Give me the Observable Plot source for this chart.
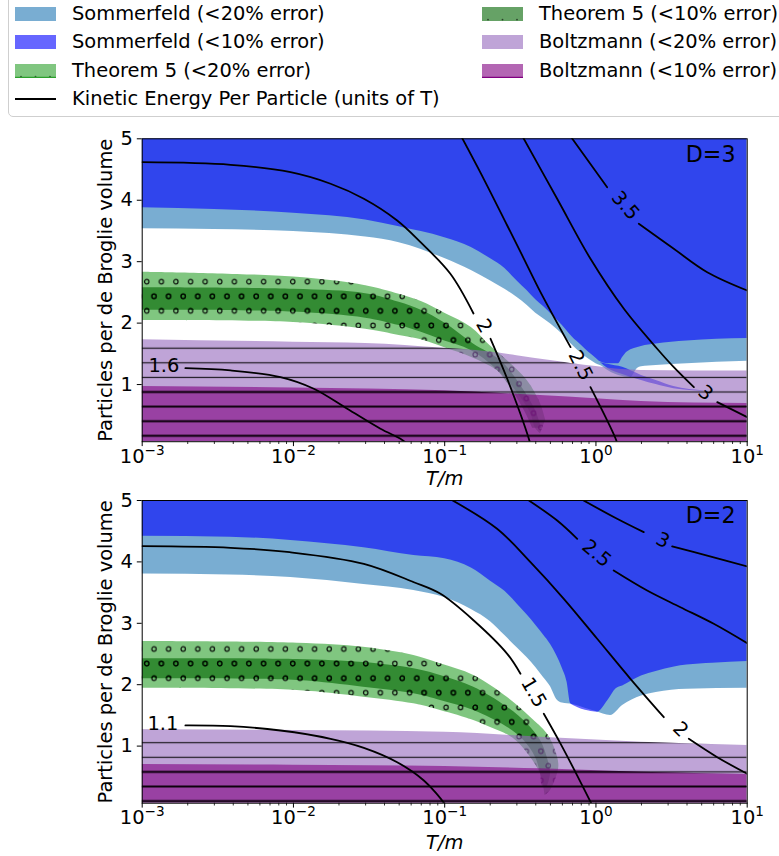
<!DOCTYPE html>
<html>
<head>
<meta charset="utf-8">
<script src="https://cdn.jsdelivr.net/npm/d3@7"></script>
<script src="https://cdn.jsdelivr.net/npm/@observablehq/plot@0.6"></script>
<style>
html,body{margin:0;padding:0;background:#fff;}
#root{position:relative;width:779px;height:856px;overflow:hidden;font-family:"DejaVu Sans",sans-serif;color:#000;}
#legendBox{position:absolute;left:8px;top:-10px;width:820px;height:127px;border:1.3px solid #cfcfcf;border-radius:5px;background:#fff;box-sizing:border-box;}
.lg{position:absolute;height:28px;display:flex;align-items:center;font-size:19.44px;white-space:nowrap;line-height:1;}
.lg svg{flex:none;margin-right:16px;}
.panel{position:absolute;left:0;}
</style>
</head>
<body>
<div id="root">
  <div id="legendBox"></div>
  <div id="p1" class="panel" style="top:118px"></div>
  <div id="p2" class="panel" style="top:480px"></div>
</div>
<script>
// ---------------- data (x = T/m, y = particles per de Broglie volume) ----------------
const X_TICKS = [0.001, 0.01, 0.1, 1, 10];
const X_TICK_EXP = ["\u22123", "\u22122", "\u22121", "0", "1"];
const Y_TICKS = [1, 2, 3, 4, 5];
const X_DOMAIN = [0.001, 10];
const Y_DOMAIN = [0.07, 5];
const X_LABEL = "T/m";
const Y_LABEL = "Particles per de Broglie volume";
const LEGEND_LABELS = ["Sommerfeld (<20% error)", "Sommerfeld (<10% error)", "Theorem 5 (<20% error)",
  "Kinetic Energy Per Particle (units of T)", "Theorem 5 (<10% error)", "Boltzmann (<20% error)", "Boltzmann (<10% error)"];

// ----- D=3 panel -----
const d3Sommer20Lower = [[0.001,3.535],[0.003,3.524],[0.01,3.49],[0.03,3.40],[0.05,3.31],[0.07,3.20],[0.1,3.05],[0.15,2.857],[0.2,2.69],[0.25,2.55],[0.3,2.42],[0.35,2.29],[0.4,2.16],[0.45,2.07],[0.5,1.99],[0.6,1.82],[0.7,1.64],[0.8,1.51],[0.9,1.41],[1,1.34],[1.07,1.31],[1.2,1.23],[1.33,1.17],[1.5,1.13],[1.69,1.11],[1.88,1.26],[2,1.29],[2.5,1.31],[4,1.34],[10,1.38]];
const d3Sommer10Lower = [[0.001,3.877],[0.003,3.85],[0.01,3.79],[0.03,3.68],[0.05,3.57],[0.07,3.49],[0.1,3.39],[0.15,3.23],[0.2,3.05],[0.25,2.89],[0.3,2.69],[0.35,2.53],[0.4,2.38],[0.45,2.27],[0.5,2.16],[0.6,1.96],[0.7,1.77],[0.8,1.64],[0.9,1.52],[1,1.43],[1.07,1.37],[1.2,1.34],[1.41,1.34],[1.5,1.44],[1.61,1.53],[2,1.62],[2.5,1.66],[4,1.71],[10,1.75]];
const d3Sommer10Sliver = [[1.07,1.36,1.36],[1.2,1.26,1.33],[1.5,1.165,1.28],[2,1.067,1.148],[2.5,1.0,1.067],[3.27,0.932,0.97],[5.3,0.89,0.896]];
const d3Thm20Lower = [[0.001,2.043],[0.01,2.01],[0.03,1.90],[0.05,1.80],[0.07,1.73],[0.1,1.60],[0.155,1.43],[0.234,1.19],[0.301,0.87],[0.369,0.54],[0.398,0.29],[0.43,0.20]];
const d3Thm20Upper = [[0.001,2.83],[0.01,2.75],[0.03,2.61],[0.05,2.47],[0.07,2.35],[0.1,2.16],[0.15,1.93],[0.2,1.63],[0.259,1.39],[0.351,1.067],[0.43,0.69],[0.465,0.42]];
const d3Thm10Lower = [[0.001,2.21],[0.01,2.18],[0.03,2.08],[0.05,1.96],[0.07,1.85],[0.1,1.71],[0.148,1.56],[0.217,1.26],[0.281,0.90],[0.342,0.54],[0.381,0.29]];
const d3Thm10Upper = [[0.001,2.575],[0.01,2.55],[0.03,2.48],[0.05,2.34],[0.07,2.21],[0.1,2.0],[0.155,1.66],[0.234,1.39],[0.317,0.99],[0.398,0.58],[0.437,0.29]];
const d3Boltz20Upper = [[0.001,1.73],[0.01,1.69],[0.03,1.67],[0.1,1.59],[0.2,1.53],[0.3,1.47],[0.5,1.39],[0.7,1.34],[1,1.295],[1.5,1.245],[2,1.23],[10,1.22]];
const d3Boltz10Upper = [[0.001,0.97],[0.01,0.945],[0.1,0.90],[0.43,0.82],[1,0.77],[2,0.725],[10,0.69]];
// kinetic energy contours: [T/m, value, segment]
const d3Level16 = [[0.00193,1.267,0],[0.00384,1.230,0],[0.0082,1.121,0],[0.01363,0.932,0],[0.02267,0.606,0],[0.0376,0.281,0],[0.051,0.118,0],[0.0551,0.058,0]];
const d3Level2 = [[0.001,4.619,0],[0.00384,4.577,0],[0.00956,4.456,0],[0.0176,4.268,0],[0.0292,4.024,0],[0.0485,3.670,0],[0.0692,3.317,0],[0.109,2.803,0],[0.155,2.157,0],[0.201,1.745,1],[0.259,1.094,1],[0.36,0.118,1],[0.38,-0.1,1]];
const d3Level25 = [[0.128,5.05,0],[0.181,4.349,0],[0.259,3.589,0],[0.334,3.047,0],[0.43,2.504,0],[0.679,1.609,0],[0.92,0.958,1],[1.35,0.118,1],[1.42,-0.05,1]];
const d3Level3 = [[0.325,5.05,0],[0.554,4.024,0],[0.92,3.047,0],[1.53,2.233,0],[2.54,1.583,0],[3.27,1.283,0],[4.44,0.958,0],[6.34,0.714,1],[10,0.47,1]];
const d3Level35 = [[0.675,5.05,0],[1.186,4.212,0],[1.92,3.617,1],[3.27,3.21,1],[5.44,2.829,1],[10,2.531,1]];
const d3Labels = [[0.00139,1.31,"1.6"],[0.182,1.954,"2"],[0.79,1.31,"2.5"],[5.3,0.863,"3"],[1.567,3.915,"3.5"]];
const d3LabelAngles = [0, 60, 63, 40, 49];

// ----- D=2 panel -----
const d2Sommer20Lower = [[0.001,3.803],[0.0038,3.787],[0.0096,3.746],[0.0292,3.632],[0.0625,3.534],[0.1,3.42],[0.15,3.225],[0.2,3.03],[0.25,2.80],[0.3,2.606],[0.35,2.443],[0.4,2.28],[0.45,2.117],[0.5,1.97],[0.55,1.76],[0.6,1.70],[0.7,1.678],[0.9,1.596],[1,1.564],[1.25,1.498],[1.5,1.661],[2,1.815],[2.5,1.873],[4,1.927],[10,1.943]];
const d2Sommer10Lower = [[0.001,4.419],[0.0038,4.403],[0.0096,4.349],[0.0292,4.23],[0.0625,4.104],[0.1,4.05],[0.15,3.90],[0.2,3.69],[0.25,3.52],[0.3,3.32],[0.35,3.14],[0.4,2.97],[0.45,2.81],[0.5,2.66],[0.55,2.476],[0.6,2.264],[0.645,2.036],[0.68,1.694],[0.72,1.653],[0.9,1.572],[1.02,1.552],[1.2,1.743],[1.36,1.933],[1.5,1.98],[2,2.14],[2.5,2.215],[3.3,2.29],[4,2.32],[5.9,2.35],[10,2.378]];
const d2Thm20Lower = [[0.001,1.943],[0.0106,1.906],[0.029,1.797],[0.0625,1.689],[0.0938,1.58],[0.1556,1.417],[0.201,1.303],[0.259,1.189],[0.301,1.075],[0.369,0.819],[0.43,0.549],[0.452,0.331],[0.46,0.196]];
const d2Thm20Upper = [[0.001,2.704],[0.0106,2.676],[0.029,2.611],[0.0625,2.476],[0.0938,2.34],[0.1556,2.15],[0.259,1.796],[0.369,1.47],[0.476,1.20],[0.54,0.928],[0.568,0.656],[0.501,0.277],[0.47,0.21]];
const d2Thm10Lower = [[0.001,2.096],[0.0106,2.068],[0.029,1.959],[0.0625,1.852],[0.0938,1.743],[0.1556,1.58],[0.259,1.308],[0.334,1.091],[0.398,0.819],[0.43,0.549],[0.441,0.358],[0.46,0.33]];
const d2Thm10Upper = [[0.001,2.42],[0.0106,2.41],[0.029,2.36],[0.0625,2.259],[0.0938,2.15],[0.1556,1.959],[0.259,1.634],[0.351,1.363],[0.43,1.091],[0.476,0.819],[0.501,0.549],[0.476,0.331]];
const d2Boltz20Upper = [[0.001,1.265],[0.01,1.254],[0.1,1.226],[0.43,1.145],[2,1.064],[10,1.01]];
const d2Boltz10Upper = [[0.001,0.70],[0.01,0.689],[0.1,0.668],[0.43,0.63],[2,0.575],[10,0.537]];
const d2Level11 = [[0.00193,1.336,0],[0.00384,1.324,0],[0.0082,1.254,0],[0.0176,1.119,0],[0.0292,0.972,0],[0.0485,0.738,0],[0.0728,0.440,0],[0.099,0.07,0],[0.102,0.0,0]];
const d2Level15 = [[0.001,4.256,0],[0.00384,4.230,0],[0.00944,4.158,0],[0.0292,3.969,0],[0.0625,3.669,0],[0.0938,3.480,0],[0.1556,3.046,0],[0.259,2.503,0],[0.317,2.178,0],[0.452,1.526,1],[0.583,1.04,1],[0.752,0.52,1],[0.93,0.07,1],[0.96,0.0,1]];
const d2Level2 = [[0.104,5.05,0],[0.222,4.539,0],[0.369,3.995,0],[0.613,3.399,0],[1.019,2.748,0],[1.69,2.096,0],[2.81,1.471,0],[4.11,1.119,1],[6.34,0.819,1],[10,0.549,1]];
const d2Level25 = [[0.336,5.05,0],[0.554,4.674,0],[0.752,4.376,0],[1.31,3.860,1],[2.18,3.534,1],[3.62,3.262,1],[6.01,2.992,1],[10,2.676,1]];
const d2Level3 = [[0.762,5.05,0],[1.38,4.702,0],[2.07,4.484,0],[3.19,4.251,1],[5.44,4.104,1],[10,3.925,1]];
const d2Labels = [[0.00137,1.368,"1.1"],[0.387,1.873,"1.5"],[3.62,1.27,"2"],[1.009,4.137,"2.5"],[2.77,4.349,"3"]];
const d2LabelAngles = [0, 60, 45, 40, 26];

// ---------------- styles ----------------
const COL = {s20: "#1f77b4", s10: "#0000ff", t20: "#2ca02c", t10: "#006400", b20: "#9467bd", b10: "#800080"};
const ALPHA = 0.6;
const FONT = 19.44;
const ns = "http://www.w3.org/2000/svg";

function el(tag, attrs, parent) {
  const e = document.createElementNS(ns, tag);
  for (const k in attrs) e.setAttribute(k, attrs[k]);
  if (parent) parent.appendChild(e);
  return e;
}

function addPatterns(svg, key, dot, hl) {
  const defs = el("defs", {});
  svg.insertBefore(defs, svg.firstChild);
  const pd = el("pattern", {id: "dots-" + key, patternUnits: "userSpaceOnUse", x: dot.x, y: dot.y, width: 14.6, height: 29.2}, defs);
  el("circle", {cx: dot.a, cy: 7.3, r: 2.2, fill: "none", stroke: "#000", "stroke-width": 1.2, "stroke-opacity": 0.9}, pd);
  el("circle", {cx: dot.b, cy: 21.9, r: 2.2, fill: "none", stroke: "#000", "stroke-width": 1.2, "stroke-opacity": 0.9}, pd);
  const p1 = el("pattern", {id: "hl-" + key, patternUnits: "userSpaceOnUse", x: 0, y: hl, width: 20, height: 14.6}, defs);
  el("line", {x1: 0, x2: 20, y1: 7.3, y2: 7.3, stroke: "#000", "stroke-width": 1.2, "stroke-opacity": 0.85}, p1);
  const p2 = el("pattern", {id: "hl2-" + key, patternUnits: "userSpaceOnUse", x: 0, y: hl, width: 20, height: 14.6}, defs);
  el("line", {x1: 0, x2: 20, y1: 7.3, y2: 7.3, stroke: "#000", "stroke-width": 2, "stroke-opacity": 0.85}, p2);
}

function fixTickLabels(svg) {
  svg.querySelectorAll("text").forEach(t => {
    const s = t.textContent;
    if (!s.includes("^")) return;
    const [b, e] = s.split("^");
    while (t.firstChild) t.removeChild(t.firstChild);
    const t1 = el("tspan", {}, t); t1.textContent = b;
    const t2 = el("tspan", {dy: "-0.6em", "font-size": "0.7em"}, t); t2.textContent = e;
  });
}

const MINOR = [];
for (let e = -3; e < 1; e++) for (let k = 2; k <= 9; k++) MINOR.push(k * Math.pow(10, e));

function zipBand(lo, hi) { return lo.map((p, i) => [p[0], p[1], hi[i][0], hi[i][1]]); }

function buildPanel(o) {
  const yTop = Y_DOMAIN[1], yBot = Y_DOMAIN[0];
  const marks = [];
  const upperArea = (data, fill, op) => Plot.areaY(data, {x: d => d[0], y1: d => d[1], y2: () => yTop, fill, fillOpacity: op, curve: "monotone-x", clip: true});
  marks.push(upperArea(o.s20, COL.s20, ALPHA));
  marks.push(upperArea(o.s10, COL.s10, ALPHA));
  if (o.sliver) marks.push(Plot.areaY(o.sliver, {x: d => d[0], y1: d => d[1], y2: d => d[2], fill: COL.s10, fillOpacity: ALPHA, curve: "monotone-x", clip: true}));
  const bandOpts = (fill, op) => ({x1: d => d[0], y1: d => d[1], x2: d => d[2], y2: d => d[3], fill, fillOpacity: op, curve: "catmull-rom", clip: true});
  const t20 = zipBand(o.t20lo, o.t20hi), t10 = zipBand(o.t10lo, o.t10hi);
  marks.push(Plot.area(t20, bandOpts(COL.t20, ALPHA)), Plot.area(t20, bandOpts(`url(#dots-${o.key})`, 1)));
  marks.push(Plot.area(t10, bandOpts(COL.t10, ALPHA)), Plot.area(t10, bandOpts(`url(#dots-${o.key})`, 1)));
  const lowerArea = (data, fill, op) => Plot.areaY(data, {x: d => d[0], y1: () => yBot, y2: d => d[1], fill, fillOpacity: op, curve: "monotone-x", clip: true});
  marks.push(lowerArea(o.b20, COL.b20, ALPHA), lowerArea(o.b20, `url(#hl-${o.key})`, 1));
  marks.push(lowerArea(o.b10, COL.b10, ALPHA), lowerArea(o.b10, `url(#hl2-${o.key})`, 1));
  for (const L of o.lines) marks.push(Plot.line(L, {x: d => d[0], y: d => d[1], z: d => d[2], stroke: "#000", strokeWidth: 1.8, curve: "catmull-rom", clip: true}));
  marks.push(Plot.text(o.labels, {x: d => d[0], y: d => d[1], text: d => d[2], rotate: (d, i) => o.angles[i], fontSize: FONT, fill: "#000"}));
  marks.push(Plot.frame({stroke: "#000", strokeWidth: 1}));
  marks.push(Plot.axisX(MINOR, {tickSize: 2.8, tickFormat: () => "", label: null, strokeWidth: 0.8}));
  marks.push(Plot.axisX(X_TICKS, {tickSize: 4.9, tickPadding: 2.5, tickFormat: d => "10^" + X_TICK_EXP[X_TICKS.indexOf(d)], label: null, strokeWidth: 1}));
  marks.push(Plot.axisY(Y_TICKS, {tickSize: 4.9, tickPadding: 4.5, tickFormat: d => String(d), label: null, strokeWidth: 1}));
  marks.push(Plot.text([X_LABEL], {text: d => d, frameAnchor: "bottom", dy: o.xLabelDy, lineAnchor: "middle", textAnchor: "middle", fontStyle: "italic", fontSize: FONT}));
  marks.push(Plot.text([Y_LABEL], {text: d => d, frameAnchor: "left", dx: -36, rotate: -90, textAnchor: "middle", lineAnchor: "middle", fontSize: FONT}));
  marks.push(Plot.text([o.tag], {text: d => d, frameAnchor: "top-right", dx: -11.7, dy: 7, textAnchor: "end", lineAnchor: "top", fontSize: 22.2}));
  const svg = Plot.plot({
    width: 779, height: o.H,
    marginLeft: 141.7, marginRight: 32.3, marginTop: o.MT, marginBottom: o.MB,
    style: {background: "transparent", overflow: "visible", fontFamily: "DejaVu Sans", fontSize: FONT + "px", color: "#000"},
    x: {type: "log", domain: X_DOMAIN},
    y: {domain: Y_DOMAIN},
    marks
  });
  addPatterns(svg, o.key, o.dot, o.hl);
  fixTickLabels(svg);
  return svg;
}

document.getElementById("p1").appendChild(buildPanel({
  key: "d3", tag: "D=3", H: 362, MT: 20.3, MB: 38.8, xLabelDy: 37,
  s20: d3Sommer20Lower, s10: d3Sommer10Lower, sliver: d3Sommer10Sliver,
  t20lo: d3Thm20Lower, t20hi: d3Thm20Upper, t10lo: d3Thm10Lower, t10hi: d3Thm10Upper,
  b20: d3Boltz20Upper, b10: d3Boltz10Upper,
  lines: [d3Level16, d3Level2, d3Level25, d3Level3, d3Level35],
  labels: d3Labels, angles: d3LabelAngles,
  dot: {x: 143.05, y: 156.4, a: 3.65, b: 10.95}, hl: 222.9
}));
document.getElementById("p2").appendChild(buildPanel({
  key: "d2", tag: "D=2", H: 376, MT: 20, MB: 53.3, xLabelDy: 40,
  s20: d2Sommer20Lower, s10: d2Sommer10Lower, sliver: null,
  t20lo: d2Thm20Lower, t20hi: d2Thm20Upper, t10lo: d2Thm10Lower, t10hi: d2Thm10Upper,
  b20: d2Boltz20Upper, b10: d2Boltz10Upper,
  lines: [d2Level11, d2Level15, d2Level2, d2Level25, d2Level3],
  labels: d2Labels, angles: d2LabelAngles,
  dot: {x: 143.05, y: 161.7, a: 10.95, b: 3.65}, hl: 255.4
}));

// ---------------- legend ----------------
function swatch(kind) {
  const s = el("svg", {width: 41, height: 14});
  if (kind === "line") { el("line", {x1: 0, x2: 41, y1: 7, y2: 7, stroke: "#000", "stroke-width": 2}, s); return s; }
  el("rect", {x: 0, y: 0, width: 41, height: 14, fill: COL[kind], "fill-opacity": ALPHA}, s);
  if (kind === "t20" || kind === "t10") {
    for (const cx of [6, 20.5, 35]) el("circle", {cx, cy: 12.6, r: 0.9, fill: "#000", "fill-opacity": 0.6}, s);
  }
  if (kind === "t20") el("line", {x1: 0, x2: 41, y1: 13.4, y2: 13.4, stroke: COL.t20, "stroke-width": 1.2}, s);
  if (kind === "b10") el("line", {x1: 0, x2: 41, y1: 13.4, y2: 13.4, stroke: COL.b10, "stroke-width": 1.2}, s);
  return s;
}
const legendKinds = ["s20", "s10", "t20", "line", "t10", "b20", "b10"];
const rowCenters = [14, 42.2, 70.6, 99];
const colLeft = [15, 482];
const root = document.getElementById("root");
LEGEND_LABELS.forEach((lab, i) => {
  const col = i < 4 ? 0 : 1, row = i < 4 ? i : i - 4;
  const d = document.createElement("div");
  d.className = "lg";
  d.style.left = colLeft[col] + "px";
  d.style.top = (rowCenters[row] - 14) + "px";
  d.appendChild(swatch(legendKinds[i]));
  const sp = document.createElement("span");
  sp.textContent = lab;
  d.appendChild(sp);
  root.appendChild(d);
});
</script>
</body>
</html>
